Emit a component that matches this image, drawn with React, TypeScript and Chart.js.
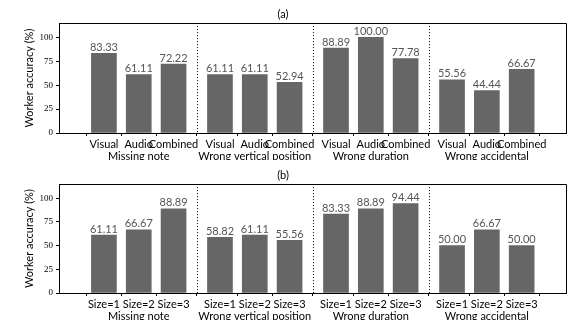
import React, { useEffect, useRef } from "react";
import { Chart, registerables } from "chart.js";
Chart.register(...registerables);

const groups = ["Missing note", "Wrong vertical position", "Wrong duration", "Wrong accidental"];
const modalities = ["Visual", "Audio", "Combined"];
const sizes = ["Size=1", "Size=2", "Size=3"];
const accuracyByModality = [83.33, 61.11, 72.22, 61.11, 61.11, 52.94, 88.89, 100.0, 77.78, 55.56, 44.44, 66.67];
const accuracyBySize = [61.11, 66.67, 88.89, 58.82, 61.11, 55.56, 83.33, 88.89, 94.44, 50.0, 66.67, 50.0];
const yTicks = [0, 25, 50, 75, 100];

const GROUP_STEP = 3 + 1 / 3;
const SANS = "Lato, 'DejaVu Sans', sans-serif";
const SERIF = "'Liberation Serif', 'DejaVu Serif', serif";

function Panel({ title, subLabels, values, topPad }: { title: string; subLabels: string[]; values: number[]; topPad: number }) {
  const ref = useRef<HTMLCanvasElement | null>(null);
  useEffect(() => {
    if (!ref.current) return;
    const pos = values.map((_, i) => Math.floor(i / 3) * GROUP_STEP + (i % 3));
    const seps = groups.slice(1).map((_, g) => g * GROUP_STEP + 2 + (GROUP_STEP - 2) / 2);

    const deco = {
      id: "deco",
      afterDatasetsDraw(chart: any) {
        const { ctx, chartArea, scales } = chart;
        ctx.save();
        ctx.strokeStyle = "#000";
        ctx.lineWidth = 1;
        ctx.setLineDash([1, 2]);
        seps.forEach((s) => {
          const x = Math.round(scales.x.getPixelForValue(s)) + 0.5;
          ctx.beginPath();
          ctx.moveTo(x, chartArea.top);
          ctx.lineTo(x, chartArea.bottom);
          ctx.stroke();
        });
        ctx.setLineDash([]);
        ctx.fillStyle = "#555";
        ctx.font = `11px ${SANS}`;
        ctx.textAlign = "center";
        ctx.textBaseline = "bottom";
        values.forEach((v, i) => {
          const x = scales.x.getPixelForValue(pos[i]);
          const y = scales.y.getPixelForValue(v);
          ctx.fillText(v.toFixed(2), x, y - 0.5);
        });
        ctx.strokeStyle = "#000";
        ctx.beginPath();
        ctx.moveTo(chartArea.left, Math.round(chartArea.top) + 0.5);
        ctx.lineTo(Math.round(chartArea.right) + 0.5, Math.round(chartArea.top) + 0.5);
        ctx.lineTo(Math.round(chartArea.right) + 0.5, chartArea.bottom);
        ctx.stroke();
        ctx.restore();
      },
    };

    const chart = new Chart(ref.current, {
      type: "bar",
      data: {
        datasets: [
          {
            data: values.map((v, i) => ({ x: pos[i], y: v })),
            backgroundColor: "#666666",
            barThickness: 25,
          },
        ],
      },
      options: {
        responsive: false,
        animation: false,
        layout: { padding: { left: 0, right: 14, top: 0, bottom: 0 } },
        plugins: {
          legend: { display: false },
          tooltip: { enabled: false },
          title: {
            display: true,
            text: title,
            color: "#000",
            font: { family: SANS, size: 11, weight: "normal", lineHeight: 1.1 },
            padding: { top: topPad, bottom: 3 },
          },
        },
        scales: {
          x: {
            type: "linear",
            min: -0.684,
            max: 3 * GROUP_STEP + 2 + 0.667,
            afterBuildTicks: (s: any) => {
              s.ticks = pos.map((v) => ({ value: v }));
            },
            afterFit: (s: any) => {
              s.height = 27;
            },
            ticks: {
              autoSkip: false,
              maxRotation: 0,
              padding: 3,
              color: "#000",
              font: { family: SANS, size: 11, lineHeight: 1.05 },
              callback: (_v: any, idx: number) =>
                idx % 3 === 1 ? [subLabels[idx % 3], groups[Math.floor(idx / 3)]] : subLabels[idx % 3],
            },
            grid: { drawOnChartArea: false, drawTicks: true, tickLength: 3, color: "#000" },
            border: { color: "#000" },
          },
          y: {
            min: 0,
            max: 115,
            afterBuildTicks: (s: any) => {
              s.ticks = yTicks.map((v) => ({ value: v }));
            },
            afterFit: (s: any) => {
              s.width = 59;
            },
            ticks: { color: "#000", padding: 3, font: { family: SERIF, size: 9 } },
            title: {
              display: true,
              text: "Worker accuracy (%)",
              color: "#000",
              font: { family: SANS, size: 11 },
              padding: { top: 23, bottom: 0 },
            },
            grid: { drawOnChartArea: false, drawTicks: true, tickLength: 3, color: "#000" },
            border: { color: "#000" },
          },
        },
      },
      plugins: [deco],
    } as any);
    return () => chart.destroy();
  }, [title, subLabels, values, topPad]);
  return <canvas ref={ref} width={580} height={160} style={{ display: "block", width: 580, height: 160 }} />;
}

export default function App() {
  return (
    <div style={{ position: "absolute", left: 0, top: 0, width: 580, height: 320, background: "#fff" }}>
      <Panel title="(a)" subLabels={modalities} values={accuracyByModality} topPad={8} />
      <Panel title="(b)" subLabels={sizes} values={accuracyBySize} topPad={9} />
    </div>
  );
}
